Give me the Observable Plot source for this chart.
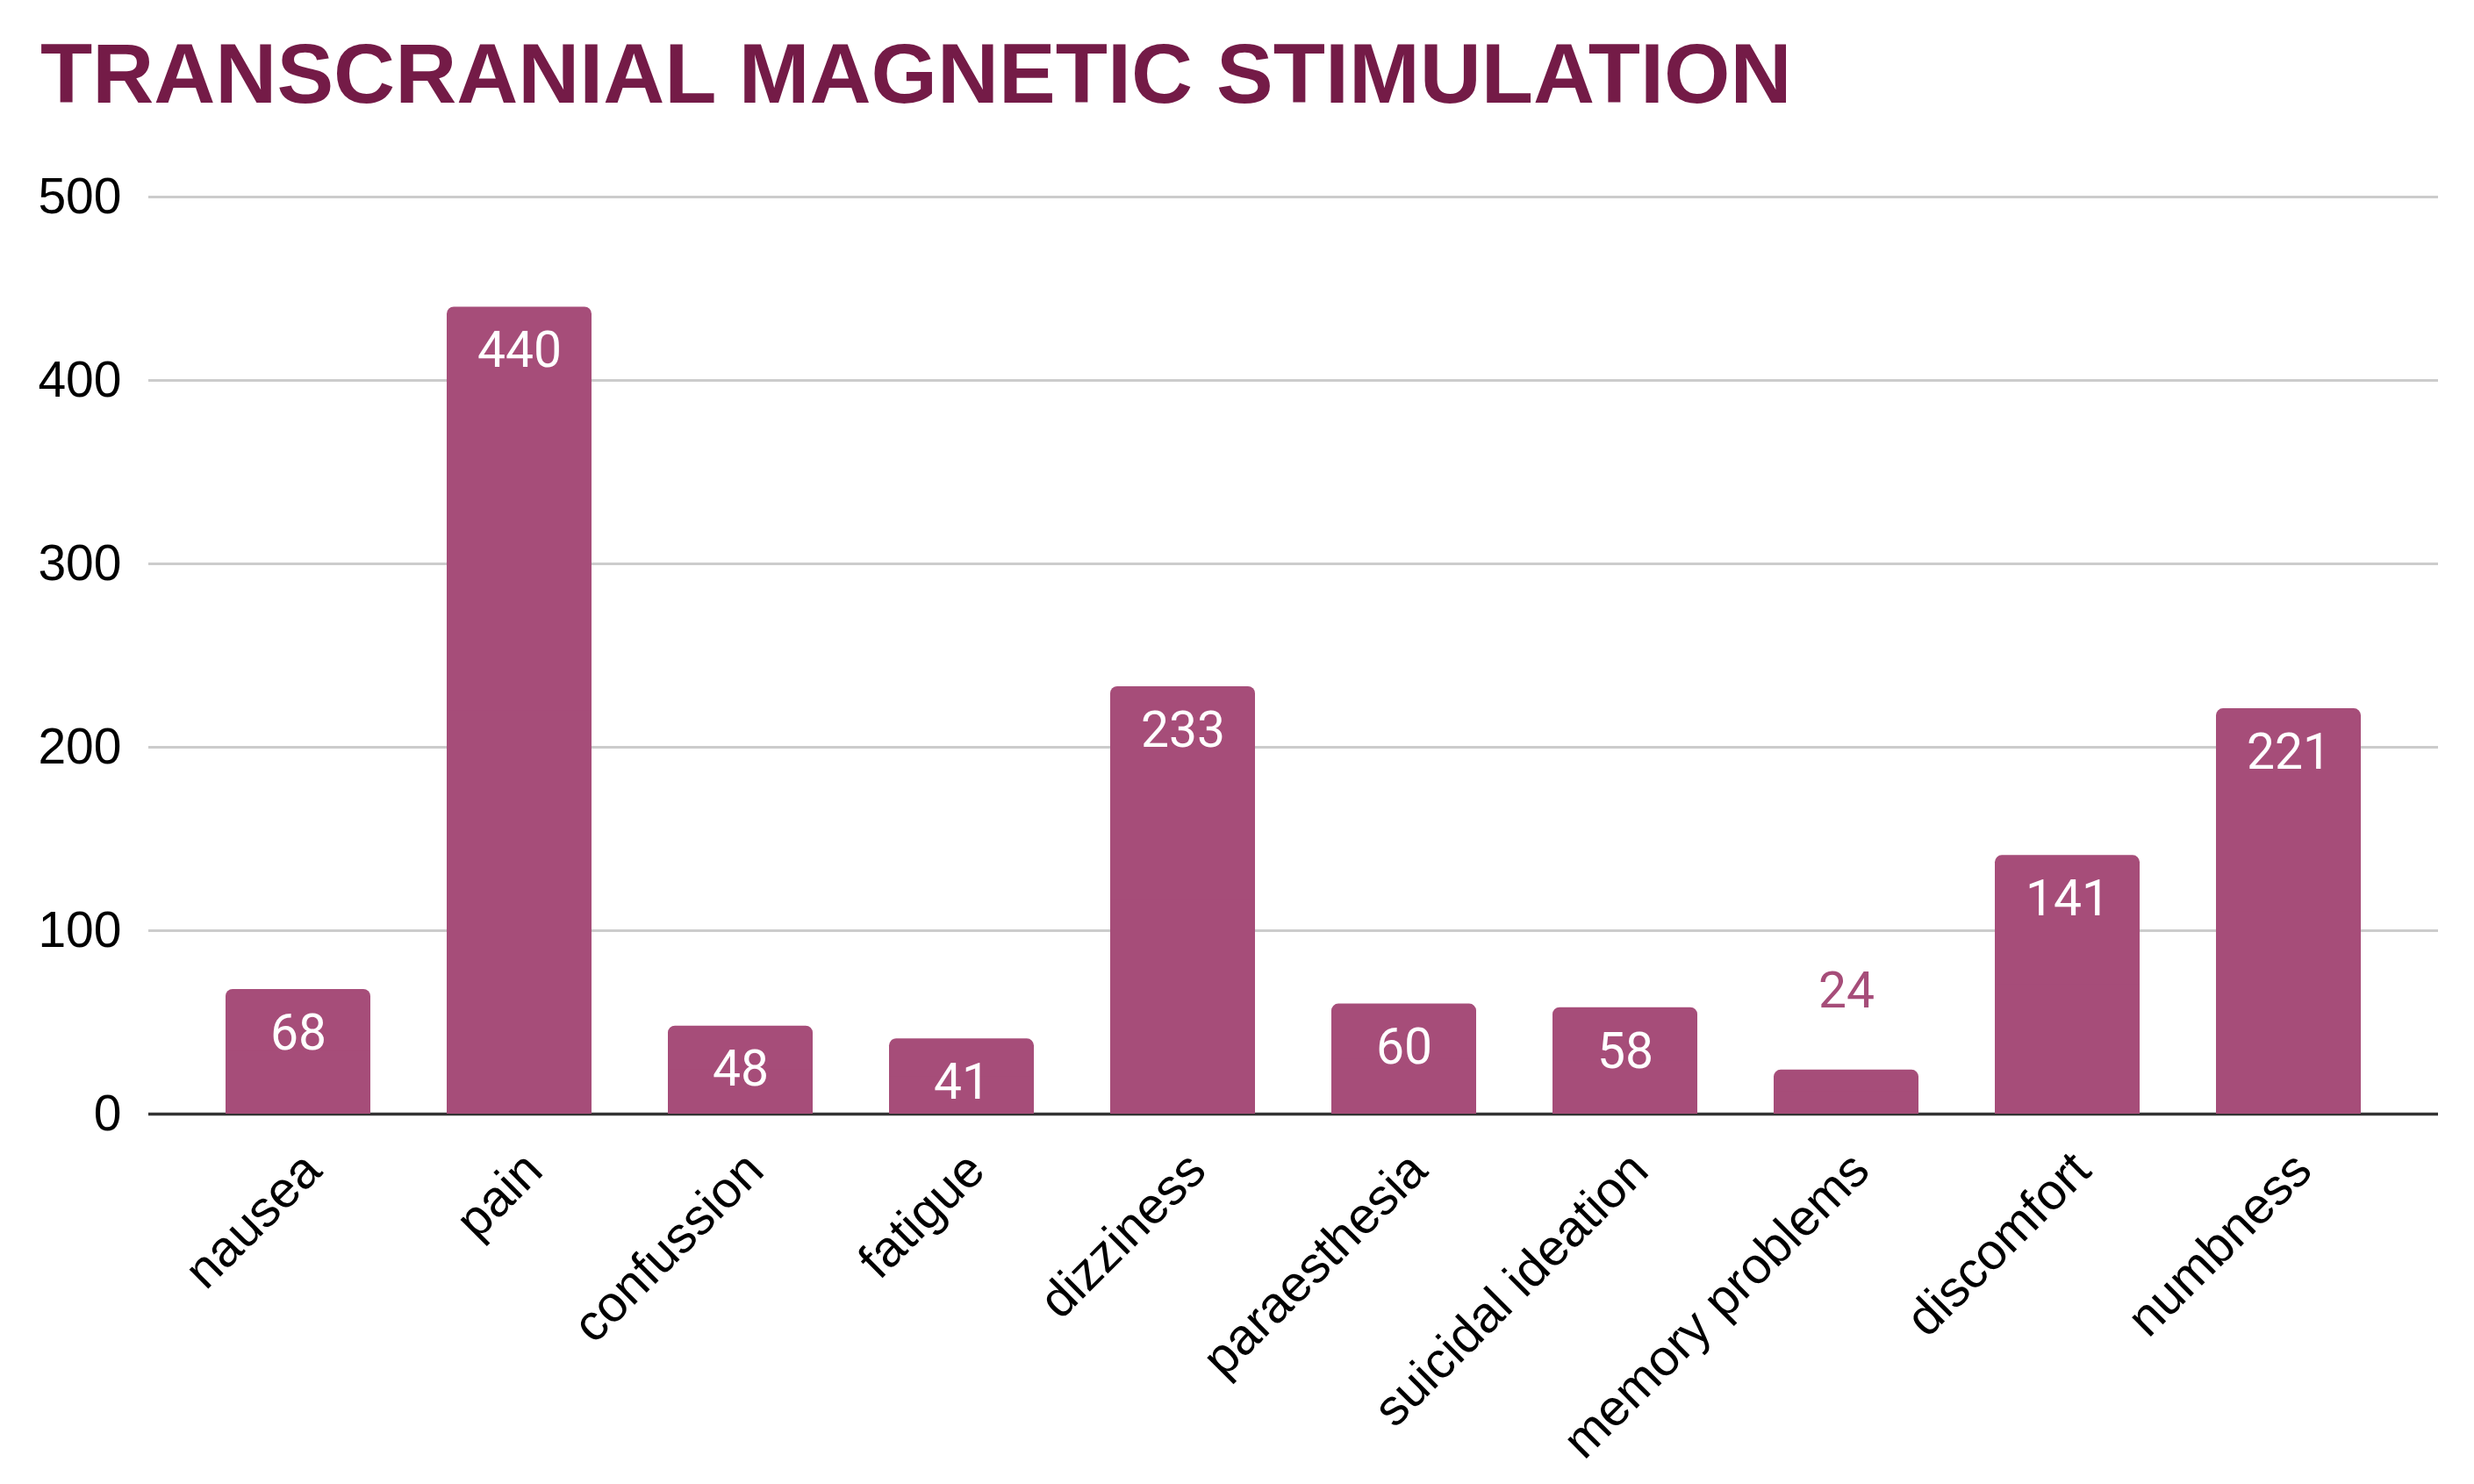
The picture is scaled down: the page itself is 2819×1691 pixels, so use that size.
<!DOCTYPE html>
<html>
<head>
<meta charset="utf-8">
<script src="https://cdn.jsdelivr.net/npm/d3@7"></script>
<script src="https://cdn.jsdelivr.net/npm/@observablehq/plot@0.6"></script>
<style>
  html, body { margin: 0; padding: 0; background: #fff; }
  #title {
    box-sizing: border-box;
    height: 160px;
    padding: 35px 0 0 46px;
    font-family: "Liberation Sans", Arial, sans-serif;
    font-weight: bold;
    font-size: 97px;
    line-height: 97px;
    color: #741b47;
    white-space: nowrap;
  }
  #chart svg { display: block; }
</style>
</head>
<body>
<div id="title">TRANSCRANIAL MAGNETIC STIMULATION</div>
<div id="chart"></div>
<script>
const categories = ["nausea", "pain", "confussion", "fatigue", "dizziness", "paraesthesia", "suicidal ideation", "memory problems", "discomfort", "numbness"];
const values = [68, 440, 48, 41, 233, 60, 58, 24, 141, 221];
const yTicks = [0, 100, 200, 300, 400, 500];

const data = categories.map((c, i) => ({category: c, value: values[i]}));
const barColor = "#a64d79";

const chart = Plot.plot({
  width: 2819,
  height: 1531,
  marginLeft: 169,
  marginRight: 41,
  marginTop: 64,
  marginBottom: 422,
  style: {fontFamily: "'Liberation Sans', Arial, sans-serif", fontSize: "57px", color: "#000", background: "#fff"},
  x: {domain: categories, padding: 0.345, label: null},
  y: {domain: [0, 500], label: null},
  marks: [
    Plot.ruleY(yTicks.filter(t => t > 0), {stroke: "#cccccc", strokeWidth: 3}),
    Plot.ruleY([0], {stroke: "#333333", strokeWidth: 3.5}),
    Plot.barY(data, {x: "category", y: "value", fill: barColor, rx: 8}),
    Plot.barY(data, {x: "category", y1: 0, y2: d => d.value / 2, fill: barColor}),
    Plot.text(data.filter(d => d.value >= 30), {x: "category", y: "value", text: d => String(d.value), dy: 50, fill: "#ffffff", fontFamily: "Roboto", fontSize: 57}),
    Plot.text(data.filter(d => d.value < 30), {x: "category", y: "value", text: d => String(d.value), dy: -90, fill: barColor, fontFamily: "Roboto", fontSize: 57}),
    Plot.axisY({ticks: yTicks, tickSize: 0, tickPadding: 31, label: null, fontSize: 57}),
    Plot.axisX({tickSize: 0, tickPadding: 54, tickRotate: -45, dx: 16, label: null, fontSize: 58})
  ]
});
document.getElementById("chart").appendChild(chart);
</script>
</body>
</html>
